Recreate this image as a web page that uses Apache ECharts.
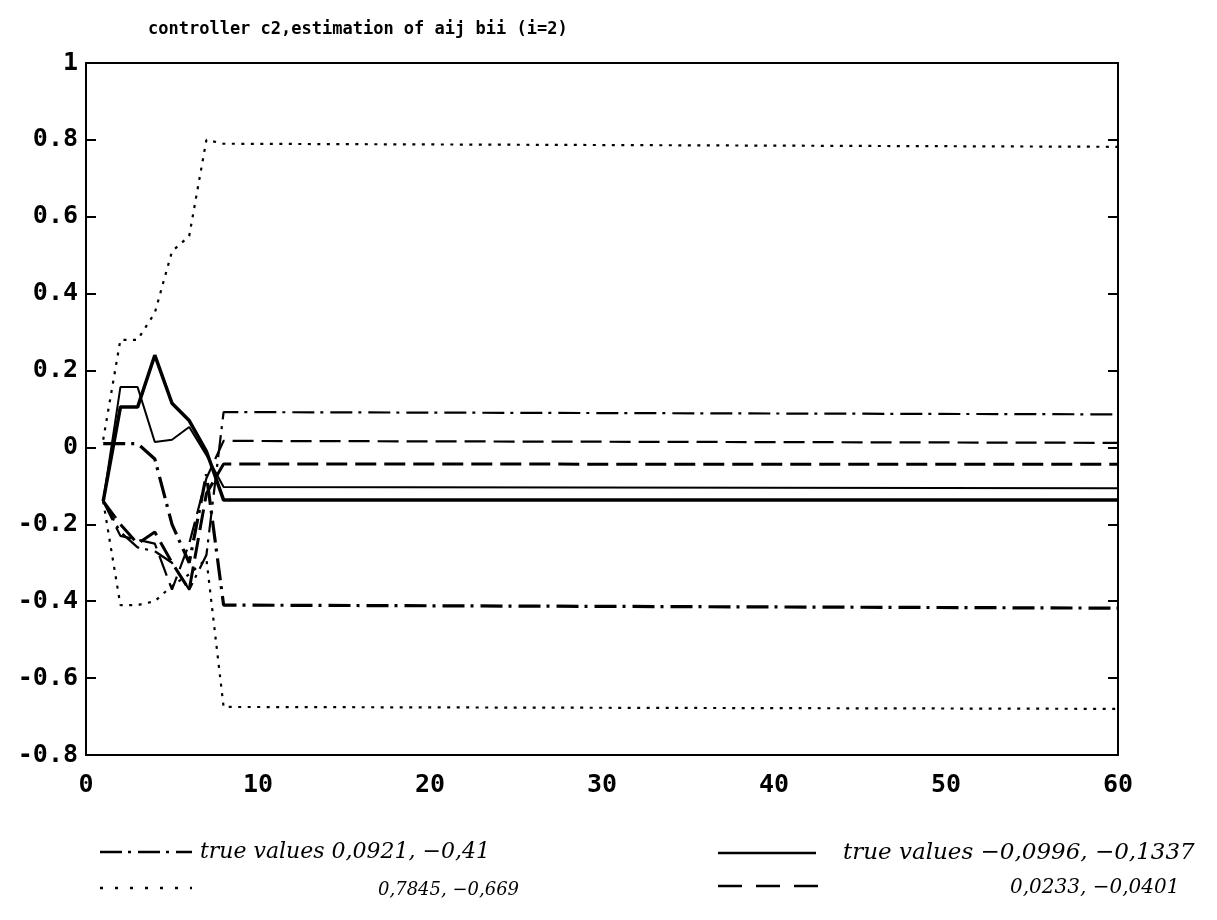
<!DOCTYPE html>
<html>
<head>
<meta charset="utf-8">
<script src="https://cdn.jsdelivr.net/npm/echarts@6/dist/echarts.min.js"></script>
<style>html,body{margin:0;padding:0;background:#fff}#c{width:1217px;height:920px}</style>
</head>
<body>
<div id="c"></div>
<script>
// sample instants (step k) ; values for k = 1..8 and the end of the run (60)
const xs = [1, 2, 3, 4, 5, 6, 7, 8, 60];
const dashDotA = [-0.14, -0.22, -0.26, -0.27, -0.30, -0.37, -0.28, 0.092, 0.086];
const dashDotB = [0.01, 0.01, 0.01, -0.03, -0.20, -0.30, -0.07, -0.41, -0.418];
const dottedA  = [0.02, 0.28, 0.28, 0.35, 0.51, 0.55, 0.80, 0.79, 0.782];
const dottedB  = [-0.14, -0.41, -0.41, -0.40, -0.36, -0.33, -0.29, -0.675, -0.68];
const solidA   = [-0.14, 0.157, 0.157, 0.014, 0.02, 0.053, -0.02, -0.103, -0.106];
const solidB   = [-0.14, 0.105, 0.105, 0.24, 0.115, 0.07, -0.01, -0.137, -0.137];
const dashedA  = [-0.14, -0.23, -0.24, -0.25, -0.37, -0.25, -0.08, 0.017, 0.012];
const dashedB  = [-0.14, -0.20, -0.25, -0.22, -0.30, -0.37, -0.12, -0.043, -0.044];
const xTicks = [0, 10, 20, 30, 40, 50, 60];
const yTicks = [-0.8, -0.6, -0.4, -0.2, 0, 0.2, 0.4, 0.6, 0.8, 1];
const titleText = 'controller c2,estimation of aij bii (i=2)';
const legendTexts = ['true values 0,0921, \u22120,41', '0,7845, \u22120,669', 'true values \u22120,0996, \u22120,1337', '0,0233, \u22120,0401'];

const pairs = arr => xs.map((x, i) => [x, arr[i]]);
const DASHDOT = [22, 6, 3, 7];
const DOTTED = [3, 6.5];
const DASHED = [21, 8];
const mk = (arr, type, w) => ({
  type: 'line', data: pairs(arr), symbol: 'none', animation: false,
  lineStyle: { color: '#000', width: w, type: type }
});
const labFont = { fontFamily: 'DejaVu Sans Mono', fontWeight: 'bold', fontSize: 25, color: '#000' };

const chart = echarts.init(document.getElementById('c'));
chart.setOption({
  animation: false,
  backgroundColor: '#fff',
  title: { text: titleText, left: 143, top: 16, textStyle: { fontFamily: 'DejaVu Sans Mono', fontWeight: 'bold', fontSize: 17, color: '#000' } },
  grid: { left: 86, right: 99, top: 63, bottom: 165, show: true, borderColor: '#000', borderWidth: 2, containLabel: false },
  xAxis: {
    type: 'value', min: xTicks[0], max: xTicks[xTicks.length - 1], interval: 10,
    axisLine: { show: false }, axisTick: { show: false }, splitLine: { show: false },
    axisLabel: Object.assign({ margin: 18 }, labFont)
  },
  yAxis: [{
    type: 'value', min: yTicks[0], max: yTicks[yTicks.length - 1], interval: 0.2,
    axisLine: { show: false }, splitLine: { show: false },
    axisTick: { show: true, inside: true, length: 10, lineStyle: { color: '#000', width: 2 } },
    axisLabel: Object.assign({ margin: 8, formatter: v => String(Math.round(v * 10) / 10) }, labFont)
  }, {
    type: 'value', position: 'right', min: yTicks[0], max: yTicks[yTicks.length - 1], interval: 0.2,
    axisLine: { show: false }, splitLine: { show: false }, axisLabel: { show: false },
    axisTick: { show: true, inside: true, length: 10, lineStyle: { color: '#000', width: 2 } }
  }],
  series: [
    mk(dashDotA, DASHDOT, 2.2),
    mk(dashDotB, DASHDOT, 3.2),
    mk(dottedA, DOTTED, 2.2),
    mk(dottedB, DOTTED, 2.2),
    mk(solidA, 'solid', 2),
    mk(solidB, 'solid', 3.5),
    mk(dashedA, DASHED, 2.2),
    mk(dashedB, DASHED, 3)
  ],
  graphic: [
    { type: 'line', shape: { x1: 100, y1: 852, x2: 192, y2: 852 }, style: { stroke: '#000', lineWidth: 2.5, lineDash: DASHDOT } },
    { type: 'line', shape: { x1: 100, y1: 888, x2: 192, y2: 888 }, style: { stroke: '#000', lineWidth: 2.5, lineDash: [3, 12] } },
    { type: 'line', shape: { x1: 718, y1: 853, x2: 816, y2: 853 }, style: { stroke: '#000', lineWidth: 2.5 } },
    { type: 'line', shape: { x1: 718, y1: 886, x2: 828, y2: 886 }, style: { stroke: '#000', lineWidth: 2.5, lineDash: [24, 14] } },
    { type: 'text', style: { text: legendTexts[0], x: 200, y: 852, textVerticalAlign: 'middle', font: 'italic 22px "DejaVu Serif"', fill: '#000' } },
    { type: 'text', style: { text: legendTexts[1], x: 378, y: 890, textVerticalAlign: 'middle', font: 'italic 18px "DejaVu Serif"', fill: '#000' } },
    { type: 'text', style: { text: legendTexts[2], x: 843, y: 853, textVerticalAlign: 'middle', font: 'italic 23px "DejaVu Serif"', fill: '#000' } },
    { type: 'text', style: { text: legendTexts[3], x: 1010, y: 888, textVerticalAlign: 'middle', font: 'italic 20px "DejaVu Serif"', fill: '#000' } }
  ]
});
</script>
</body>
</html>
